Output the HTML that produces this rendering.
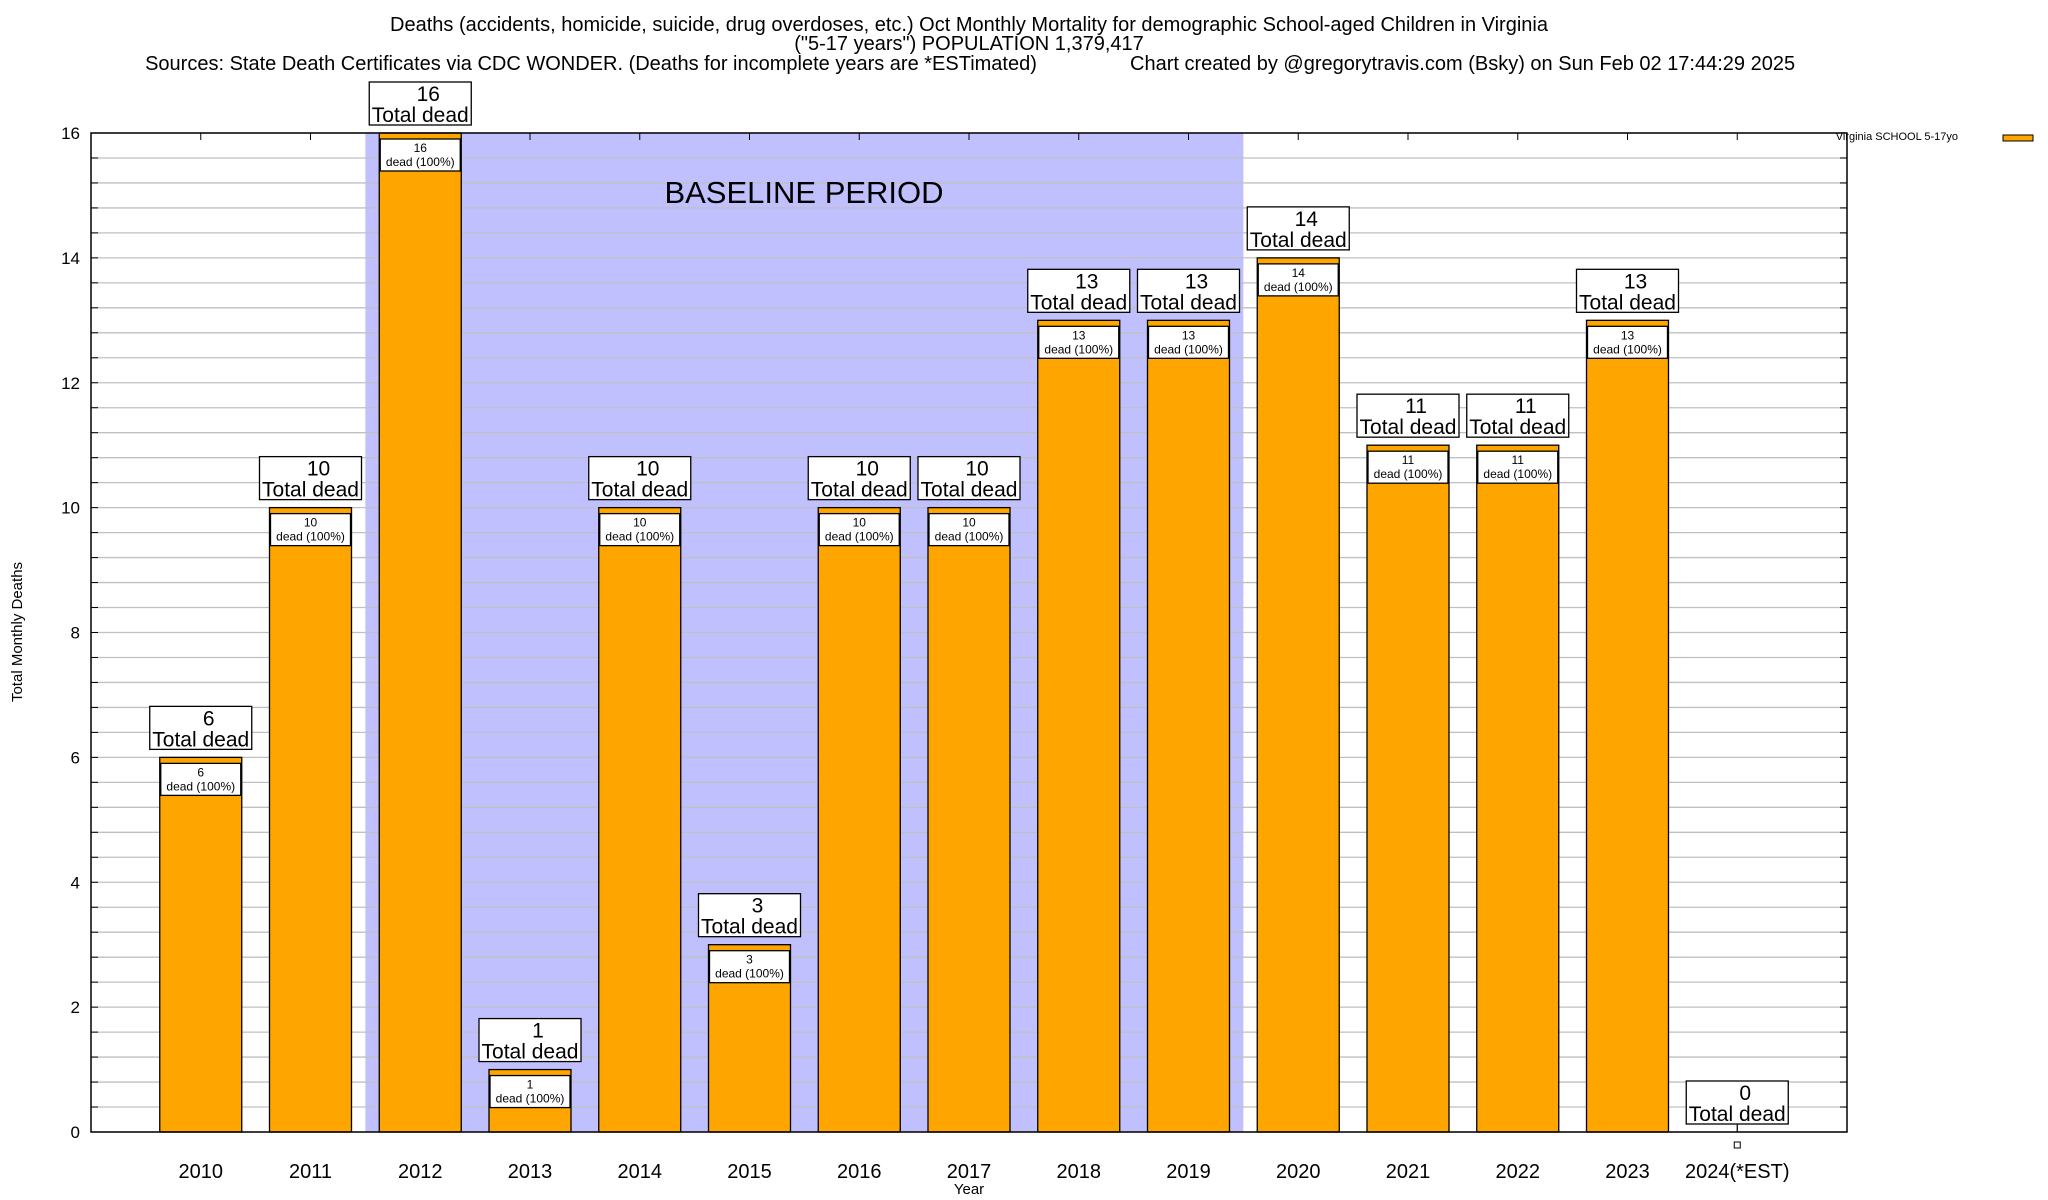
<!DOCTYPE html>
<html><head><meta charset="utf-8"><style>
html,body{margin:0;padding:0;background:#fff;}
svg{display:block;font-family:"Liberation Sans",Arial,sans-serif;}
</style></head><body>
<svg id="chart" width="2048" height="1200" viewBox="0 0 2048 1200" xmlns="http://www.w3.org/2000/svg">
<g font-size="20" text-anchor="middle" fill="#000">
<text x="969" y="31">Deaths (accidents, homicide, suicide, drug overdoses, etc.) Oct Monthly Mortality for demographic School-aged Children in Virginia</text>
<text x="969" y="50">("5-17 years") POPULATION 1,379,417</text>
<text x="591" y="70">Sources: State Death Certificates via CDC WONDER. (Deaths for incomplete years are *ESTimated)</text>
<text x="1130" y="70" text-anchor="start">Chart created by @gregorytravis.com (Bsky) on Sun Feb 02 17:44:29 2025</text>
</g>
<g id="plot"></g>
<text x="22" y="632" font-size="15" text-anchor="middle" transform="rotate(-90 22 632)">Total Monthly Deaths</text>
<text x="969" y="1194" font-size="15" text-anchor="middle">Year</text>
<g>
<text x="1958" y="140" font-size="11" text-anchor="end">Virginia SCHOOL 5-17yo</text>
<rect x="2003" y="135" width="30" height="6" fill="#ffa500" stroke="#000" stroke-width="1"/>
</g>
</svg>
<script>
const categories=["2010","2011","2012","2013","2014","2015","2016","2017","2018","2019","2020","2021","2022","2023","2024(*EST)"];
const values=[6,10,16,1,10,3,10,10,13,13,14,11,11,13,0];
const yTicks=[0,2,4,6,8,10,12,14,16];
const baselineRange=[2,9];
const NS="http://www.w3.org/2000/svg";
const L=91,R=1847,T=133,B=1132,YMAX=16;
const step=(R-L)/16;
function x(i){return L+(i+1)*step;}
function y(v){return B-(v/YMAX)*(B-T);}
const g=document.getElementById('plot');
function el(tag,attrs,parent){const e=document.createElementNS(NS,tag);for(const k in attrs)e.setAttribute(k,attrs[k]);(parent||g).appendChild(e);return e;}
const sh=el('rect',{x:x(baselineRange[0])-step/2,y:T,width:x(baselineRange[1])-x(baselineRange[0])+step,height:B-T,fill:'#c0c0ff'});


for(let v=0;v<=YMAX+0.001;v+=0.4){
  const yy=y(v);
  const ln=el('line',{x1:L,x2:R,y1:yy,y2:yy,stroke:'#c0c0c0','stroke-width':1.3});
  
  
  el('line',{x1:L,x2:L+7,y1:yy,y2:yy,stroke:'#000','stroke-width':1});
  el('line',{x1:R-7,x2:R,y1:yy,y2:yy,stroke:'#000','stroke-width':1});
}
const bt=el('text',{x:804,y:203,'font-size':31,'text-anchor':'middle'});
bt.textContent='BASELINE PERIOD';


yTicks.forEach(v=>{
  const t=el('text',{x:80,y:y(v)+6,'font-size':17,'text-anchor':'end'});
  t.textContent=v;
  
  
});
const bw=82;
categories.forEach((c,i)=>{
  const cx=x(i),v=values[i];
  el('line',{x1:cx,x2:cx,y1:T,y2:T+7,stroke:'#000'});
  el('line',{x1:cx,x2:cx,y1:B-7,y2:B,stroke:'#000'});
  const tl=el('text',{x:cx,y:1178,'font-size':20,'text-anchor':'middle'});
  tl.textContent=c;
  
  
  if(v>0){
    const b=el('rect',{x:cx-bw/2,y:y(v),width:bw,height:B-y(v),fill:'#ffa500',stroke:'#000','stroke-width':1.3});
    
    
    const ib=el('rect',{x:cx-bw/2+1,y:y(v)+6,width:bw-2,height:32,fill:'#fff',stroke:'#000','stroke-width':1.3});
    
    
    const t1=el('text',{x:cx,y:y(v)+19,'font-size':12,'text-anchor':'middle'});t1.textContent=v;
    const t2=el('text',{x:cx,y:y(v)+33,'font-size':12,'text-anchor':'middle'});t2.textContent='dead (100%)';
  } else {
    el('rect',{x:cx-3,y:1142,width:6,height:6,fill:'#fff',stroke:'#000','stroke-width':1});
    el('line',{x1:cx,x2:cx,y1:B-8,y2:B,stroke:'#000'});
  }
  const by=y(v)-8-43;
  const ob=el('rect',{x:cx-51,y:by,width:102,height:43,fill:'#fff',stroke:'#000','stroke-width':1.3});
  
  
  const a=el('text',{x:cx+8,y:by+19,'font-size':21,'text-anchor':'middle'});a.textContent=v;
  const d=el('text',{x:cx,y:by+40,'font-size':21,'text-anchor':'middle'});d.textContent='Total dead';
});
const fr=el('rect',{x:L,y:T,width:R-L,height:B-T,fill:'none',stroke:'#000','stroke-width':1.5});


</script>
</body></html>
